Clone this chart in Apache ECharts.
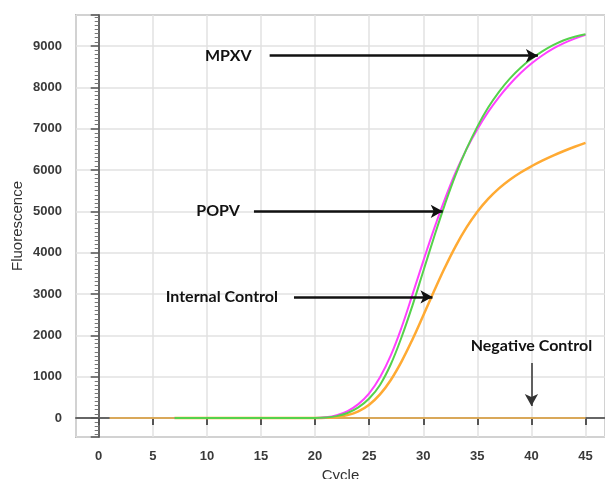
<!DOCTYPE html>
<html>
<head>
<meta charset="utf-8">
<script src="https://cdn.jsdelivr.net/npm/echarts@6/dist/echarts.min.js"></script>
<style>
  html, body { margin: 0; padding: 0; background: #fff; }
  #main { width: 605px; height: 479px; }
</style>
</head>
<body>
<div id="main"></div>
<script>
// amplification curves (cycle -> fluorescence)
var cycles = [7, 8, 9, 10, 11, 12, 13, 14, 15, 16, 17, 18, 19, 20, 21, 22, 23, 24, 25, 26,
  27, 28, 29, 30, 31, 32, 33, 34, 35, 36, 37, 38, 39, 40, 41, 42, 43, 44, 45];
var mpxvMagenta = [0, 0, 0, 0, 0, 0, 0, 0, 0, 0, 0, 0, 0, 0, 15, 65, 165, 335, 595, 985,
  1515, 2195, 2985, 3795, 4575, 5295, 5945, 6505, 6985, 7405, 7765, 8075, 8345, 8575, 8770, 8935, 9070, 9180, 9270];
var popvGreen = [0, 0, 0, 0, 0, 0, 0, 0, 0, 0, 0, 0, 0, 0, 10, 45, 120, 255, 470, 800,
  1300, 1960, 2720, 3550, 4380, 5170, 5890, 6510, 7050, 7510, 7890, 8210, 8475, 8690, 8870, 9020, 9140, 9225, 9285];
var internalControl = [0, 0, 0, 0, 0, 0, 0, 0, 0, 0, 0, 0, 0, 0, 5, 25, 70, 160, 320, 570,
  920, 1370, 1900, 2480, 3070, 3640, 4160, 4610, 4990, 5300, 5555, 5765, 5940, 6090, 6225, 6347, 6459, 6562, 6657];

var ncCycles = [1, 5, 10, 15, 20, 25, 30, 35, 40, 45];
var negativeControl = [0, 0, 0, 0, 0, 0, 0, 0, 0, 0];

// arrow annotations: [label, start cycle, start value, end cycle, end value, label gap]
var arrows = [
  ['MPXV', 15.8, 8765, 40.6, 8765, 18],
  ['POPV', 14.35, 5000, 31.8, 5000, 14],
  ['Internal Control', 18.05, 2930, 30.85, 2930, 16]
];
var ncArrow = ['Negative Control', 40, 1330, 40, 290];

function pairs(xs, ys) {
  return xs.map(function (x, i) { return [x, ys[i]]; });
}

var dom = document.getElementById('main');
var myChart = echarts.init(dom, null, { renderer: 'canvas' });

var labelFont = {
  color: '#111',
  fontFamily: 'Lato',
  fontWeight: 'bold',
  fontSize: 16
};

var markData = arrows.map(function (a) {
  return [
    { name: a[0], coord: [a[1], a[2]], label: { distance: a[5] } },
    { coord: [a[3], a[4]] }
  ];
});
markData.push([
  {
    name: ncArrow[0], coord: [ncArrow[1], ncArrow[2]],
    lineStyle: { color: '#333', width: 1.5 },
    label: { distance: 9 }
  },
  { coord: [ncArrow[3], ncArrow[4]] }
]);

var option = {
  animation: false,
  grid: {
    left: 76, right: 0, top: 15, bottom: 42,
    outerBoundsMode: 'none',
    show: true,
    borderColor: '#888',
    borderWidth: 1.5
  },
  xAxis: {
    type: 'value',
    min: -2.1,
    max: 46.8,
    splitNumber: 10,
    name: 'Cycle',
    nameLocation: 'middle',
    nameGap: 31,
    nameMoveOverlap: false,
    nameTextStyle: { color: '#333', fontFamily: 'Liberation Sans', fontSize: 15 },
    axisLine: { lineStyle: { color: '#666', width: 2 } },
    axisTick: { length: 7, lineStyle: { color: '#555', width: 2 } },
    axisLabel: {
      margin: 13, color: '#3a3a3a', fontFamily: 'Liberation Sans', fontWeight: 'bold', fontSize: 13,
      showMinLabel: false, showMaxLabel: false,
      formatter: function (v) { return String(v); }
    },
    splitLine: { lineStyle: { color: '#e2e2e2', width: 1.5 } }
  },
  yAxis: {
    type: 'value',
    min: -460,
    max: 9750,
    splitNumber: 10,
    name: 'Fluorescence',
    nameLocation: 'middle',
    nameGap: 51,
    nameMoveOverlap: false,
    nameTextStyle: { color: '#333', fontFamily: 'Liberation Sans', fontSize: 15 },
    axisLine: { show: true, lineStyle: { color: '#666', width: 2 } },
    axisTick: { show: true, length: 8, lineStyle: { color: '#555', width: 1.5 } },
    minorTick: { show: true, splitNumber: 10, length: 4, lineStyle: { color: '#777', width: 1 } },
    axisLabel: {
      margin: 14, color: '#3a3a3a', fontFamily: 'Liberation Sans', fontWeight: 'bold', fontSize: 13,
      showMinLabel: false, showMaxLabel: false,
      formatter: function (v) { return String(v); }
    },
    splitLine: { lineStyle: { color: '#e2e2e2', width: 1.5 } }
  },
  series: [
    {
      name: 'Negative Control',
      type: 'line',
      data: pairs(ncCycles, negativeControl),
      showSymbol: false,
      lineStyle: { color: '#FFBE55', width: 1.5 },
      markLine: {
        silent: true,
        symbol: ['none', 'arrow'],
        symbolSize: [10, 12],
        lineStyle: { color: '#111', width: 2.5, type: 'solid' },
        label: Object.assign({ show: true, position: 'start', formatter: '{b}' }, labelFont),
        emphasis: { disabled: true },
        data: markData
      }
    },
    {
      name: 'Internal Control',
      type: 'line',
      data: pairs(cycles, internalControl),
      showSymbol: false,
      smooth: 0.4,
      lineStyle: { color: '#FFAA33', width: 2.5 }
    },
    {
      name: 'MPXV',
      type: 'line',
      data: pairs(cycles, mpxvMagenta),
      showSymbol: false,
      smooth: 0.4,
      lineStyle: { color: '#FF40FF', width: 2 }
    },
    {
      name: 'POPV',
      type: 'line',
      data: pairs(cycles, popvGreen),
      showSymbol: false,
      smooth: 0.4,
      lineStyle: { color: '#55D24B', width: 2 }
    }
  ]
};

myChart.setOption(option);
window.addEventListener('resize', myChart.resize);
</script>
</body>
</html>
